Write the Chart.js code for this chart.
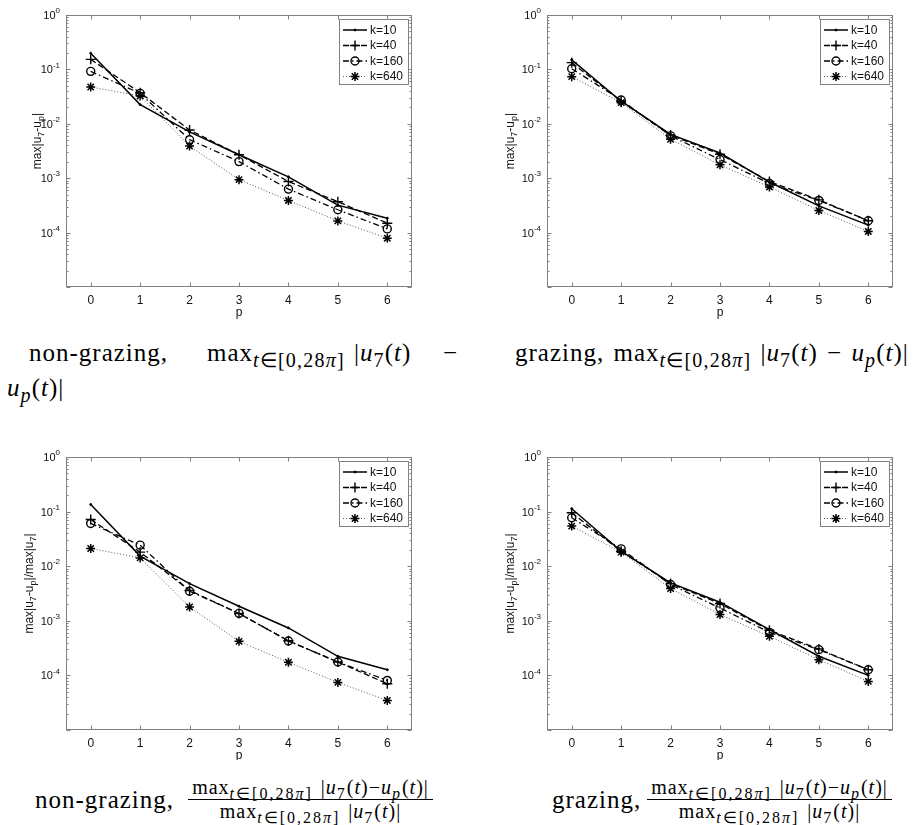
<!DOCTYPE html>
<html>
<head>
<meta charset="utf-8">
<script src="https://cdn.jsdelivr.net/npm/chart.js@4.4.0/dist/chart.umd.min.js"></script>
<style>
  body { margin: 0; background: #fff; width: 921px; height: 825px; position: relative; overflow: hidden; }
  canvas.plot { position: absolute; }
  .cap { position: absolute; font-family: "Liberation Serif", serif; font-size: 25px; line-height: 25px; white-space: nowrap; color: #000; letter-spacing: 1px; word-spacing: 2px; }
  .cap sub { font-size: 80%; letter-spacing: 1.2px; vertical-align: baseline; position: relative; top: 0.3em; }
  .frac { font-size: 20px; line-height: 22px; text-align: center; }
  .frac sub { letter-spacing: 2px; }
  .bar { position: absolute; height: 1px; background: #000; }
</style>
</head>
<body>
<canvas class="plot" id="c1" style="left:0;top:0"></canvas>
<canvas class="plot" id="c2" style="left:460px;top:0"></canvas>
<canvas class="plot" id="c3" style="left:0;top:420px"></canvas>
<canvas class="plot" id="c4" style="left:460px;top:420px"></canvas>

<!-- captions -->
<div class="cap" style="left:29px;top:340px">non-grazing,</div>
<div class="cap" style="left:207px;top:340px">max<sub><i>t</i>∈[0,28<i>π</i>]</sub></div>
<div class="cap" style="left:354px;top:340px">|<i>u</i><sub>7</sub>(<i>t</i>)</div>
<div class="cap" style="left:443px;top:340px">−</div>
<div class="cap" style="left:7px;top:375px"><i>u</i><sub><i>p</i></sub>(<i>t</i>)|</div>

<div class="cap" style="left:515px;top:340px">grazing, max<sub><i>t</i>∈[0,28<i>π</i>]</sub> |<i>u</i><sub>7</sub>(<i>t</i>) − <i>u</i><sub><i>p</i></sub>(<i>t</i>)|</div>

<div class="cap" style="left:35px;top:787px">non-grazing,</div>
<div class="cap frac" style="left:188px;top:776px;width:245px">max<sub><i>t</i>∈[0,28<i>π</i>]</sub> |<i>u</i><sub>7</sub>(<i>t</i>)−<i>u</i><sub><i>p</i></sub>(<i>t</i>)|</div>
<div class="bar" style="left:188px;top:799px;width:245px"></div>
<div class="cap frac" style="left:188px;top:800px;width:245px">max<sub><i>t</i>∈[0,28<i>π</i>]</sub> |<i>u</i><sub>7</sub>(<i>t</i>)|</div>

<div class="cap" style="left:552px;top:787px">grazing,</div>
<div class="cap frac" style="left:647px;top:776px;width:245px">max<sub><i>t</i>∈[0,28<i>π</i>]</sub> |<i>u</i><sub>7</sub>(<i>t</i>)−<i>u</i><sub><i>p</i></sub>(<i>t</i>)|</div>
<div class="bar" style="left:647px;top:799px;width:245px"></div>
<div class="cap frac" style="left:647px;top:800px;width:245px">max<sub><i>t</i>∈[0,28<i>π</i>]</sub> |<i>u</i><sub>7</sub>(<i>t</i>)|</div>

<script>
// --- data ---
const pVals = [0, 1, 2, 3, 4, 5, 6];
const xTicks = [0, 1, 2, 3, 4, 5, 6];
const yDecades = [0, -1, -2, -3, -4];     // labelled decades
const kLabels = ['k=10', 'k=40', 'k=160', 'k=640'];

// non-grazing, max|u7-up|
const ngAbsK10  = [0.198, 0.0225, 0.0071, 0.0027, 0.00106, 0.00032, 0.000184];
const ngAbsK40  = [0.153, 0.0374, 0.0077, 0.0027, 0.00087, 0.00037, 0.000149];
const ngAbsK160 = [0.092, 0.0363, 0.0051, 0.00202, 0.00063, 0.000263, 0.000117];
const ngAbsK640 = [0.0475, 0.0325, 0.0039, 0.00094, 0.00039, 0.000164, 0.000079];

// grazing, max|u7-up|
const gAbsK10  = [0.150, 0.026, 0.0064, 0.0029, 0.00085, 0.00031, 0.000137];
const gAbsK40  = [0.133, 0.026, 0.0062, 0.00276, 0.00087, 0.00040, 0.000165];
const gAbsK160 = [0.103, 0.0274, 0.0060, 0.0022, 0.00080, 0.00039, 0.000165];
const gAbsK640 = [0.0736, 0.0245, 0.0052, 0.00176, 0.00069, 0.000255, 0.000105];

// non-grazing, relative
const ngRelK10  = [0.135, 0.0153, 0.0048, 0.00185, 0.00074, 0.000224, 0.000127];
const ngRelK40  = [0.0718, 0.0181, 0.0036, 0.00136, 0.00043, 0.000176, 0.0000703];
const ngRelK160 = [0.0607, 0.0243, 0.00348, 0.00137, 0.000427, 0.000176, 0.0000809];
const ngRelK640 = [0.0211, 0.0142, 0.00179, 0.00042, 0.000174, 0.0000744, 0.0000348];

// grazing, relative
const gRelK10  = [0.113, 0.0188, 0.00494, 0.00219, 0.00069, 0.000224, 0.0001];
const gRelK40  = [0.095, 0.0188, 0.0048, 0.00207, 0.00067, 0.000304, 0.000127];
const gRelK160 = [0.077, 0.0208, 0.00461, 0.00172, 0.000615, 0.000296, 0.000127];
const gRelK640 = [0.0542, 0.0181, 0.0039, 0.0013, 0.00052, 0.000194, 0.0000777];

const titleAbs = [['max|u', 0], ['7', 1], ['-u', 0], ['p', 1], ['|', 0]];
const titleRel = [['max|u', 0], ['7', 1], ['-u', 0], ['p', 1], ['|/max|u', 0], ['7', 1], ['|', 0]];

const SANS = '"Liberation Sans", Arial, sans-serif';
const AXIS_GRAY = '#808080';

function makeDatasets(s10, s40, s160, s640) {
  const pts = arr => pVals.map((p, i) => ({ x: p, y: arr[i] }));
  return [
    { label: kLabels[0], data: pts(s10), borderColor: '#000', borderWidth: 1.5, borderDash: [],
      pointStyle: 'circle', pointRadius: 1, pointBackgroundColor: '#000', pointBorderColor: '#000', pointBorderWidth: 1 },
    { label: kLabels[1], data: pts(s40), borderColor: '#000', borderWidth: 1.3, borderDash: [6, 3],
      pointStyle: 'cross', pointRadius: 5, pointBackgroundColor: 'rgba(0,0,0,0)', pointBorderColor: '#000', pointBorderWidth: 1.4 },
    { label: kLabels[2], data: pts(s160), borderColor: '#000', borderWidth: 1.3, borderDash: [6, 3, 1.5, 3],
      pointStyle: 'circle', pointRadius: 4, pointBackgroundColor: 'rgba(0,0,0,0)', pointBorderColor: '#000', pointBorderWidth: 1.4 },
    { label: kLabels[3], data: pts(s640), borderColor: '#555', borderWidth: 1, borderDash: [1, 2],
      pointStyle: 'star', pointRadius: 4.5, pointBackgroundColor: 'rgba(0,0,0,0)', pointBorderColor: '#000', pointBorderWidth: 1.5 }
  ];
}

// box, ticks, tick labels, axis titles and legend in MATLAB style
const matlabAxes = {
  id: 'matlabAxes',
  afterDraw(chart) {
    const ctx = chart.ctx, a = chart.chartArea;
    const xs = chart.scales.x, ys = chart.scales.y;
    const cfg = chart.options.plugins.matlabAxes;
    ctx.save();
    ctx.strokeStyle = AXIS_GRAY;
    ctx.lineWidth = 1;
    ctx.setLineDash([]);
    const L = Math.round(a.left) + 0.5, R = Math.round(a.right) - 0.5;
    const T = Math.round(a.top) + 0.5, B = Math.round(a.bottom) - 0.5;
    ctx.strokeRect(L, T, R - L, B - T);

    ctx.beginPath();
    xTicks.forEach(v => {
      const x = Math.round(xs.getPixelForValue(v)) + 0.5;
      ctx.moveTo(x, B); ctx.lineTo(x, B - 4);
      ctx.moveTo(x, T); ctx.lineTo(x, T + 4);
    });
    for (let e = -5; e <= 0; e++) {
      const y = Math.round(ys.getPixelForValue(Math.pow(10, e))) + 0.5;
      ctx.moveTo(L, y); ctx.lineTo(L + 4, y);
      ctx.moveTo(R, y); ctx.lineTo(R - 4, y);
      if (e < 0) {
        for (let m = 2; m <= 9; m++) {
          const ym = Math.round(ys.getPixelForValue(m * Math.pow(10, e))) + 0.5;
          ctx.moveTo(L, ym); ctx.lineTo(L + 2, ym);
          ctx.moveTo(R, ym); ctx.lineTo(R - 2, ym);
        }
      }
    }
    ctx.stroke();

    // y tick labels 10^e
    ctx.fillStyle = '#111';
    ctx.textBaseline = 'middle';
    yDecades.forEach(e => {
      const y = ys.getPixelForValue(Math.pow(10, e));
      const sup = e === 0 ? '0' : '-' + (-e);
      ctx.font = '8px ' + SANS;
      const sw = ctx.measureText(sup).width;
      const xr = a.left - 6;
      ctx.textAlign = 'left';
      ctx.fillText(sup, xr - sw, y - 4);
      ctx.font = '11px ' + SANS;
      ctx.textAlign = 'right';
      ctx.fillText('10', xr - sw, y + 1);
    });

    // x title
    ctx.font = '12px ' + SANS;
    ctx.textAlign = 'center';
    ctx.fillText('p', (a.left + a.right) / 2, a.bottom + 26);

    // y title with subscripts
    const big = '12px ' + SANS, small = '9px ' + SANS;
    let total = 0;
    cfg.title.forEach(([t, s]) => { ctx.font = s ? small : big; total += ctx.measureText(t).width; });
    ctx.translate(cfg.titleX, (a.top + a.bottom) / 2 - 10);
    ctx.rotate(-Math.PI / 2);
    ctx.textAlign = 'left';
    let cx = -total / 2;
    cfg.title.forEach(([t, s]) => {
      ctx.font = s ? small : big;
      ctx.fillText(t, cx, s ? 4 : 0);
      cx += ctx.measureText(t).width;
    });
    ctx.restore();

    // legend
    ctx.save();
    const bx = Math.round(a.right) - 73, by = Math.round(a.top) + 4, bw = 69, bh = 65;
    ctx.fillStyle = '#fff';
    ctx.fillRect(bx, by, bw, bh);
    ctx.strokeStyle = AXIS_GRAY;
    ctx.lineWidth = 1;
    ctx.strokeRect(bx + 0.5, by + 0.5, bw, bh);
    chart.data.datasets.forEach((ds, i) => {
      const y = by + 11 + i * 15.5;
      ctx.strokeStyle = ds.borderColor;
      ctx.lineWidth = ds.borderWidth;
      ctx.setLineDash(ds.borderDash);
      ctx.beginPath(); ctx.moveTo(bx + 4, y); ctx.lineTo(bx + 28, y); ctx.stroke();
      ctx.setLineDash([]);
      ctx.fillStyle = ds.pointBackgroundColor;
      ctx.strokeStyle = ds.pointBorderColor;
      ctx.lineWidth = ds.pointBorderWidth;
      Chart.helpers.drawPoint(ctx, { pointStyle: ds.pointStyle, radius: ds.pointRadius, rotation: 0, borderWidth: ds.pointBorderWidth }, bx + 16, y);
      ctx.fillStyle = '#111';
      ctx.font = '12px ' + SANS;
      ctx.textAlign = 'left';
      ctx.textBaseline = 'middle';
      ctx.fillText(ds.label, bx + 31, y + 0.5);
    });
    ctx.restore();
  }
};

function makeChart(id, W, H, area, datasets, title, titleX) {
  const cv = document.getElementById(id);
  cv.width = W; cv.height = H;
  cv.style.width = W + 'px'; cv.style.height = H + 'px';
  return new Chart(cv, {
    type: 'line',
    data: { datasets },
    plugins: [matlabAxes],
    options: {
      responsive: false,
      animation: false,
      layout: { padding: { top: area.top, right: W - area.right, left: 0, bottom: 0 } },
      plugins: { legend: { display: false }, tooltip: { enabled: false }, matlabAxes: { title, titleX } },
      scales: {
        x: {
          type: 'linear', min: -0.5, max: 6.5,
          grid: { display: false, drawTicks: false }, border: { display: false },
          afterBuildTicks: s => { s.ticks = xTicks.map(v => ({ value: v })); },
          afterFit: s => { s.height = H - area.bottom; },
          ticks: { padding: 6, autoSkip: false, maxRotation: 0, color: '#111', font: { family: SANS, size: 12 } }
        },
        y: {
          type: 'logarithmic', min: 1e-5, max: 1,
          grid: { display: false, drawTicks: false }, border: { display: false },
          ticks: { display: false },
          afterFit: s => { s.width = area.left; }
        }
      }
    }
  });
}

makeChart('c1', 460, 330, { left: 66, right: 412, top: 15, bottom: 287 },
  makeDatasets(ngAbsK10, ngAbsK40, ngAbsK160, ngAbsK640), titleAbs, 38);
makeChart('c2', 461, 330, { left: 87, right: 433, top: 15, bottom: 287 },
  makeDatasets(gAbsK10, gAbsK40, gAbsK160, gAbsK640), titleAbs, 51);
makeChart('c3', 460, 340, { left: 66, right: 412, top: 37, bottom: 310 },
  makeDatasets(ngRelK10, ngRelK40, ngRelK160, ngRelK640), titleRel, 30);
makeChart('c4', 461, 340, { left: 87, right: 433, top: 37, bottom: 310 },
  makeDatasets(gRelK10, gRelK40, gRelK160, gRelK640), titleRel, 51);
</script>
</body>
</html>
